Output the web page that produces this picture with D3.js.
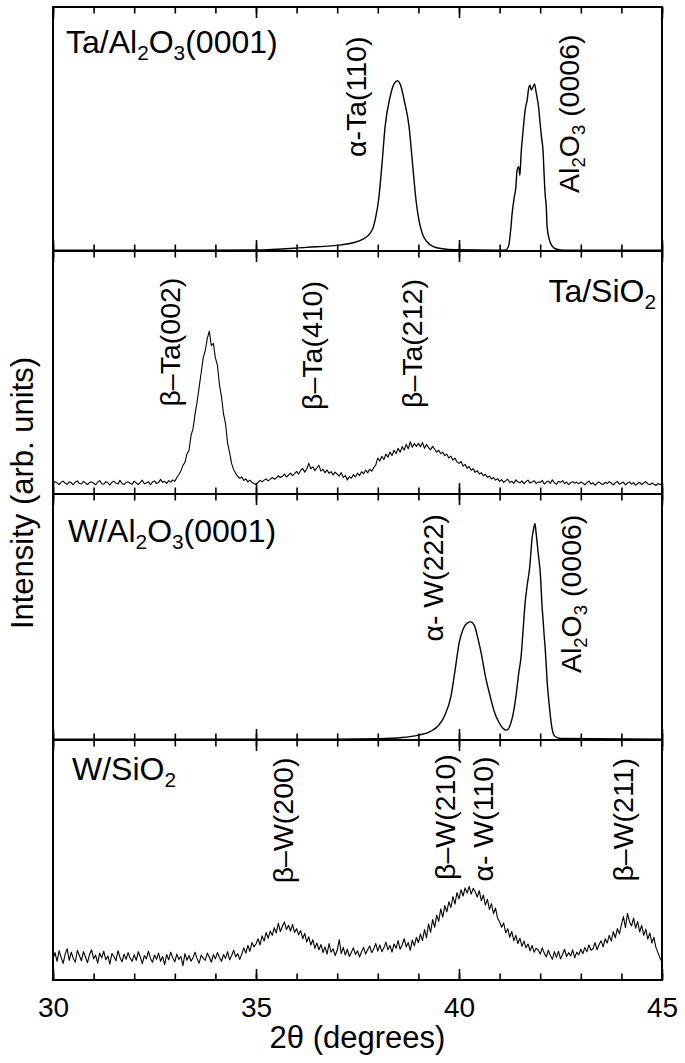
<!DOCTYPE html>
<html>
<head>
<meta charset="utf-8">
<script src="https://cdn.jsdelivr.net/npm/d3@7"></script>
<style>
  body { margin: 0; background: #fff; }
  svg { display: block; }
  text { font-family: "Liberation Sans", Arial, Helvetica, sans-serif; fill: #000; }
</style>
</head>
<body>
<svg id="chart" width="685" height="1063"></svg>
<script>
// ---- data (2theta in degrees, intensity in % of panel height) ----

// Ta on Al2O3(0001): smooth scan, read at irregular points
var taAlX = [30, 33, 35, 36.24, 37.1, 37.64, 37.86, 37.95, 38.02, 38.1, 38.18, 38.3, 38.4, 38.48, 38.56,
  38.66, 38.77, 38.86, 38.94, 39.02, 39.1, 39.2, 39.37, 39.6, 39.9, 41, 41.15, 41.22, 41.27, 41.31,
  41.36, 41.4, 41.43, 41.47, 41.5, 41.53, 41.58, 41.63, 41.68, 41.72, 41.75, 41.78, 41.82, 41.86, 41.9,
  41.96, 42.0, 42.03, 42.07, 42.1, 42.12, 42.15, 42.17, 42.22, 42.26, 42.39, 42.6, 45];
var taAlY = [0.3, 0.3, 0.4, 1.5, 2.5, 4.9, 8.6, 14, 21, 35, 51, 63, 68.5, 69.8, 68,
  61, 51, 35, 21, 12, 7, 4, 1.8, 0.9, 0.5, 0.3, 0.4, 2, 8, 15.6,
  22, 26, 33, 34.6, 31, 40, 49.6, 57.8, 62, 67, 68, 66, 67, 68.5, 65,
  59, 52, 47, 41, 30, 23.6, 18, 10, 5, 3, 0.8, 0.3, 0.3];

// noisy scans on SiO2: one value every 0.05 deg from 30 to 45
var scanStart = 30, scanStep = 0.05;
var taSiY = [
  4.2,5.1,4.6,3.9,4.8,5.3,4.4,4.0,5.0,4.7,3.8,4.9,5.4,4.3,4.1,5.2,4.6,3.9,4.7,5.0,
  4.4,3.8,4.9,5.5,4.2,4.0,5.1,4.6,3.7,4.8,5.2,4.5,4.1,5.6,4.3,3.9,4.7,5.0,4.4,4.0,
  5.3,4.6,3.9,4.8,5.7,4.2,4.5,5.1,3.8,4.9,5.4,4.3,4.7,6.0,4.8,5.2,4.4,5.5,4.9,5.8,
  5.2,6.8,8.0,9.5,11.8,13,16.5,18,24,27,33,38,44,50,56,59,64,67,61,62,
  56,53,45,40,33,29,21,17,12.5,10,8.5,7.2,6.5,7.0,5.6,6.2,5.0,5.7,4.8,4.3,
  3.9,4.8,5.6,5.0,5.7,6.2,5.4,6.0,6.8,6.1,6.6,7.5,6.8,7.3,8.2,7.0,7.8,8.6,7.6,8.4,
  9.3,8.2,9.8,10.5,9.0,10.2,12.6,10.4,11.2,9.6,10.8,11.8,9.4,10.2,8.8,9.9,8.5,9.2,7.8,9.0,
  8.2,7.4,8.8,6.8,7.6,5.8,7.2,6.5,8.0,7.0,8.6,7.6,9.2,8.3,9.8,8.7,10.2,9.4,10.8,12.0,
  14.8,13.6,15.5,14.2,16.4,15.1,17.3,15.8,18.0,16.6,18.8,17.2,19.5,18.1,20.4,18.6,21.5,19.2,20.8,19.6,
  20.9,19.4,21.2,18.8,20.4,19.1,18.2,19.6,18.4,17.2,18.0,16.6,17.2,15.8,16.4,14.8,15.6,14.0,14.8,13.2,
  12.6,13.4,11.5,12.2,10.6,11.3,9.8,10.4,8.9,9.6,8.2,8.8,7.5,8.1,6.9,7.4,6.2,6.8,5.7,6.3,
  5.2,5.9,4.8,5.5,6.1,4.7,5.3,4.4,5.8,5.0,4.6,5.4,4.2,5.1,5.7,4.5,4.9,5.5,4.3,5.0,
  4.7,5.6,4.1,4.9,5.3,4.4,5.8,4.6,4.0,5.2,4.8,5.5,4.3,4.9,3.9,4.6,5.1,4.4,4.8,4.2,
  5.0,4.5,3.8,4.7,5.3,4.1,4.6,3.6,4.4,5.0,4.2,3.9,4.8,4.3,5.1,4.5,3.8,4.6,5.2,4.0,
  4.4,4.9,3.7,4.5,5.0,4.1,4.7,3.6,4.3,4.8,3.9,4.6,5.1,4.2,3.8,4.5,4.0,3.5,4.3,3.9,
  4.1];

// W on Al2O3(0001)
var wAlX = [30, 37, 38.0, 38.6, 39.0, 39.3, 39.5, 39.65, 39.8, 39.9, 40.01, 40.1, 40.2, 40.29, 40.38,
  40.47, 40.55, 40.65, 40.77, 40.88, 40.99, 41.08, 41.17, 41.26, 41.35, 41.42, 41.47, 41.53, 41.58, 41.63,
  41.68, 41.74, 41.8, 41.84, 41.87, 41.9, 41.95, 42.01, 42.04, 42.07, 42.1, 42.12, 42.15, 42.17, 42.2,
  42.23, 42.27, 42.3, 42.36, 42.5, 45];
var wAlY = [0.3, 0.3, 0.5, 1, 2, 3.5, 6, 10, 17.6, 28, 40, 45, 47.5, 48, 46.5,
  41, 35, 26, 17.6, 11, 7, 4.8, 4, 6, 12, 20, 27, 34, 45, 56,
  63, 70, 82, 86, 88, 84, 76, 66, 56, 49, 42, 38, 30, 24, 18,
  13, 7, 4, 1.5, 0.6, 0.3];

var wSiY = [
  8.6,11.4,7.8,12.2,9.4,6.9,10.8,13.0,8.2,11.6,9.0,7.4,12.4,10.2,8.0,11.8,9.6,7.2,10.6,12.6,
  8.8,10.4,7.0,11.2,9.2,12.0,8.4,10.0,6.6,11.0,9.8,8.0,12.2,9.4,7.6,10.8,8.6,11.4,9.0,7.8,
  10.6,8.2,11.8,9.6,6.8,10.2,8.8,12.0,9.0,7.4,10.4,8.6,11.2,7.8,9.8,6.4,10.6,8.4,11.6,9.2,
  7.6,10.8,8.6,9.8,6.0,11.0,8.2,10.2,7.8,9.4,11.6,8.8,7.0,10.4,9.0,8.2,11.2,9.6,7.4,10.6,
  8.8,11.4,9.4,7.8,10.6,9.0,11.8,8.4,10.2,12.4,9.6,11.0,8.6,10.8,13.4,11.2,14.4,12.0,15.6,13.8,
  15.0,17.2,14.6,18.4,16.2,19.8,17.4,20.4,18.6,21.8,19.6,23.6,20.2,22.4,24.2,21.0,22.8,20.4,23.2,19.8,
  21.4,18.8,20.6,17.2,19.4,15.8,18.0,14.6,16.8,13.2,15.4,12.6,14.8,11.4,13.8,10.8,15.2,11.6,13.0,10.2,
  12.4,16.8,11.0,13.6,10.4,12.8,9.8,11.6,13.4,10.6,12.2,9.6,11.8,13.6,10.8,12.6,14.2,11.4,13.0,15.2,
  12.0,14.6,11.8,13.4,15.8,12.6,14.4,11.6,15.0,13.2,16.4,12.8,14.6,17.2,13.8,15.6,12.4,16.6,14.2,17.8,
  15.6,19.2,16.4,21.0,17.6,23.4,19.8,25.2,22.0,27.0,24.4,29.6,26.2,31.0,28.4,32.6,30.2,34.8,31.6,36.4,
  33.8,37.6,35.0,38.4,36.2,39.0,35.8,38.2,36.8,34.6,37.2,33.0,35.4,31.2,33.6,29.4,31.8,27.6,30.0,25.8,
  24.2,22.0,23.8,19.6,21.4,17.8,20.2,16.4,18.6,15.2,17.4,14.0,16.2,13.4,15.0,12.2,14.4,11.6,13.2,12.6,
  10.8,13.4,11.2,9.6,12.4,10.2,8.6,11.8,9.4,12.0,8.8,10.6,12.8,9.8,11.4,10.0,12.6,9.2,11.6,10.4,
  12.8,11.0,13.6,11.8,14.6,12.4,13.0,15.6,12.6,14.8,16.4,13.8,17.2,15.4,18.6,16.2,20.2,17.6,21.4,19.2,
  23.0,26.4,21.8,27.8,24.2,22.6,25.8,21.6,24.4,20.0,22.8,18.6,21.2,17.0,19.6,15.4,17.8,13.6,11.4,9.2,
  7.6];

var panelNames = ["Ta/Al_2O_3(0001)", "Ta/SiO_2", "W/Al_2O_3(0001)", "W/SiO_2"];

// peak labels: panel, text, 2theta of label baseline, foot of label (% of panel)
var peakPanel = [0, 0, 1, 1, 1, 2, 2, 3, 3, 3, 3];
var peakText = ["\u03b1-Ta(110)", "Al_2O_3 (0006)", "\u03b2\u2013Ta(002)", "\u03b2\u2013Ta(410)", "\u03b2\u2013Ta(212)",
  "\u03b1- W(222)", "Al_2O_3 (0006)", "\u03b2\u2013W(200)", "\u03b2\u2013W(210)", "\u03b1- W(110)", "\u03b2\u2013W(211)"];
var peakAt = [37.72, 42.95, 33.12, 36.62, 39.1, 39.6, 43.0, 35.92, 39.91, 40.83, 44.29];
var peakFoot = [38.5, 23.8, 36, 34.6, 35.4, 40, 27.2, 40.3, 41.7, 41, 41];

var majorTicks = [30, 35, 40, 45];
var minorTicks = d3.range(30, 46, 1);

// ---- layout ----
var svg = d3.select("#chart");
var left = 53, right = 662;
var edges = [7, 251, 494, 740, 980];

var x = d3.scaleLinear().domain([30, 45]).range([left, right]);

function scanPoints(ys) {
  return ys.map(function (v, i) { return [scanStart + i * scanStep, v]; });
}
function pairs(xs, ys) {
  return xs.map(function (v, i) { return [v, ys[i]]; });
}

var series = [
  { pts: pairs(taAlX, taAlY), curve: d3.curveMonotoneX },
  { pts: scanPoints(taSiY), curve: d3.curveLinear },
  { pts: pairs(wAlX, wAlY), curve: d3.curveMonotoneX },
  { pts: scanPoints(wSiY), curve: d3.curveLinear }
];

// write "A_2B" with one-char subscripts
function richText(sel, str, size) {
  var parts = str.split(/(_.)/).filter(function (s) { return s.length; });
  var sub = false;
  parts.forEach(function (p) {
    if (p[0] === "_") {
      sel.append("tspan").attr("font-size", size * 0.65).attr("dy", size * 0.22).text(p[1]);
      sub = true;
    } else {
      sel.append("tspan").attr("dy", sub ? -size * 0.22 : 0).text(p);
      sub = false;
    }
  });
}

var yScales = [];
series.forEach(function (s, p) {
  var top = edges[p], bottom = edges[p + 1];
  var y = d3.scaleLinear().domain([0, 100]).range([bottom, top]);
  yScales.push(y);

  var g = svg.append("g");
  svg.append("clipPath").attr("id", "clip" + p)
    .append("rect").attr("x", left).attr("y", top).attr("width", right - left).attr("height", bottom - top);

  var line = d3.line().x(function (d) { return x(d[0]); }).y(function (d) { return y(d[1]); }).curve(s.curve);
  g.append("path").datum(s.pts)
    .attr("clip-path", "url(#clip" + p + ")")
    .attr("d", line)
    .attr("fill", "none").attr("stroke", "#000")
    .attr("stroke-width", p % 2 ? 1.1 : 1.4).attr("stroke-linejoin", "round");

  // inward ticks on top and bottom edge
  [[d3.axisTop, top], [d3.axisBottom, bottom]].forEach(function (a) {
    svg.append("g").attr("transform", "translate(0," + a[1] + ")")
      .call(a[0](x).tickValues(minorTicks).tickSize(-6.5).tickFormat(""))
      .call(function (ax) { ax.select(".domain").remove(); ax.selectAll("line").attr("stroke-width", 1.6); });
    svg.append("g").attr("transform", "translate(0," + a[1] + ")")
      .call(a[0](x).tickValues(majorTicks).tickSize(-11).tickFormat(""))
      .call(function (ax) { ax.select(".domain").remove(); ax.selectAll("line").attr("stroke-width", 1.6); });
  });

  svg.append("rect").attr("x", left).attr("y", top).attr("width", right - left).attr("height", bottom - top)
    .attr("fill", "none").attr("stroke", "#000").attr("stroke-width", 2);

  // panel name
  var name = svg.append("text").attr("font-size", 32).attr("y", [53, 302, 542, 780][p]);
  if (p === 1) name.attr("x", 656).attr("text-anchor", "end");
  else name.attr("x", [66, 0, 68, 72][p]);
  richText(name, panelNames[p], 32);
});

// peak labels, rotated
peakText.forEach(function (t, i) {
  var p = peakPanel[i];
  var tx = x(peakAt[i]), ty = yScales[p](peakFoot[i]);
  var lab = svg.append("text").attr("font-size", 28.5)
    .attr("transform", "translate(" + tx + "," + ty + ") rotate(-90)");
  richText(lab, t, 28.5);
});

// bottom tick labels
svg.append("g").attr("transform", "translate(0," + edges[4] + ")")
  .call(d3.axisBottom(x).tickValues(majorTicks).tickSize(0).tickPadding(17).tickFormat(d3.format("d")))
  .call(function (ax) {
    ax.select(".domain").remove();
    ax.selectAll("text").attr("font-size", 28).attr("font-family", "\"Liberation Sans\", Arial, sans-serif");
  });

svg.append("text").attr("x", (left + right) / 2).attr("y", 1048).attr("text-anchor", "middle")
  .attr("font-size", 31).text("2\u03b8 (degrees)");

svg.append("text").attr("transform", "translate(33,493) rotate(-90)").attr("text-anchor", "middle")
  .attr("font-size", 31).text("Intensity (arb. units)");
</script>
</body>
</html>
